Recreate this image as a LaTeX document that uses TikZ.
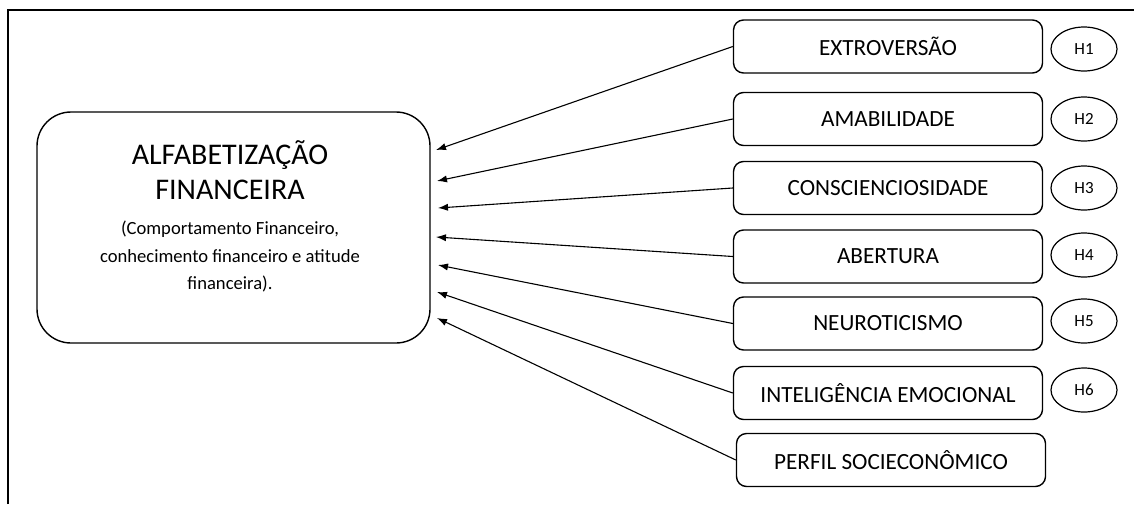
\documentclass[tikz,border=0pt]{standalone}
\usepackage{fontspec}
\setmainfont{Carlito}
\usepackage{tikz}
\usetikzlibrary{
    arrows.meta,
    shapes,
    positioning
}

\begin{document}
\begin{tikzpicture}[x=0.5pt, y=-0.5pt]
            \useasboundingbox (0,0) rectangle (1134,504);
            \tikzset{
                factor/.style={draw, rounded corners=5pt, line width=0.7pt, minimum width=154.5pt, minimum height=26.5pt, inner sep=0pt, font=\fontsize{11.6}{14}\selectfont},
                hyp/.style={draw, ellipse, line width=0.6pt, minimum width=33pt, minimum height=22pt, inner sep=0pt, font=\fontsize{8.5}{10}\selectfont},
                link/.style={->, >={Latex[length=5pt, width=3.6pt]}, line width=0.55pt}
            }
            % frame (cut off on the right and at the bottom)
            \draw[line width=1pt] (7.5,504) -- (7.5,10) -- (1134,10);
            
            \node[draw, rounded corners=17pt, line width=0.7pt, minimum width=196.5pt, minimum height=115.5pt] (fin) at (233.5,227.5) {};
            \node[align=center, inner sep=0pt, font=\fontsize{15}{17.5}\selectfont] (title) at (230,170) {ALFABETIZAÇÃO\\FINANCEIRA};
            \node[align=center, inner sep=0pt, font=\fontsize{9.3}{13.6}\selectfont, below=10.5pt of title] (sub) {(Comportamento Financeiro,\\conhecimento financeiro e atitude\\financeira).};
            
            \node[factor] (extro) at (888,46.5)  {EXTROVERSÃO};
            \node[factor] (amab)  at (888,119)   {AMABILIDADE};
            \node[factor] (consc) at (888,188)   {CONSCIENCIOSIDADE};
            \node[factor] (abert) at (888,256.5) {ABERTURA};
            \node[factor] (neuro) at (888,323.5) {NEUROTICISMO};
            \node[factor] (intel) at (888,393)   {INTELIGÊNCIA EMOCIONAL};
            \node[factor] (perfil) at (891,460)  {PERFIL SOCIECONÔMICO};
            
            \node[hyp] (h1) at (1084,49)  {H1};
            \node[hyp] (h2) at (1084,119) {H2};
            \node[hyp] (h3) at (1084,188) {H3};
            \node[hyp] (h4) at (1084,255) {H4};
            \node[hyp] (h5) at (1084,321) {H5};
            \node[hyp] (h6) at (1084,390) {H6};
            
            \coordinate (t1) at (436,150);
            \coordinate (t2) at (437,181);
            \coordinate (t3) at (438,208);
            \coordinate (t4) at (436,237);
            \coordinate (t5) at (438,265);
            \coordinate (t6) at (437,292);
            \coordinate (t7) at (437,318);
            
            \draw[link] (extro.west)--(t1);
            \draw[link] (amab.west)--(t2);
            \draw[link] (consc.west)--(t3);
            \draw[link] (abert.west)--(t4);
            \draw[link] (neuro.west)--(t5);
            \draw[link] (intel.west)--(t6);
            \draw[link] (perfil.west)--(t7);
            \end{tikzpicture}
\end{document}
